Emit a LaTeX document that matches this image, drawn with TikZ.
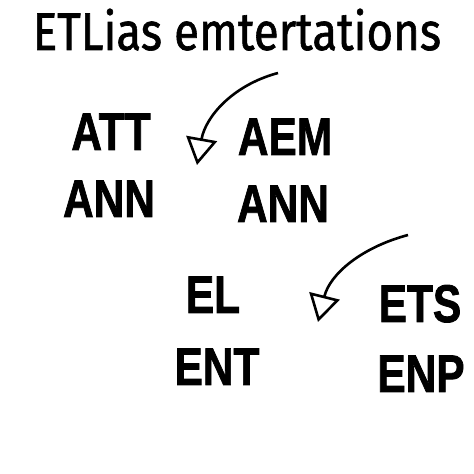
\documentclass[tikz,border=0pt]{standalone}
\usepackage{fontspec}
\setmainfont{Liberation Sans}[BoldFeatures={FakeBold=1.6}]
\newfontfamily\headfont{Fira Sans}[UprightFeatures={FakeBold=1.2}]
\usetikzlibrary{arrows.meta}

\begin{document}
\begin{tikzpicture}[x=1pt,y=1pt,
  word/.style={inner sep=0pt,anchor=base,xscale=0.8,transform shape,
    font=\fontsize{53}{60}\selectfont\bfseries,text=inkcolor},
  swoop/.style={line width=2.6pt,draw=inkcolor,
    -{Triangle[open,length=27pt,width=31pt,line width=2.6pt]}}]
\definecolor{inkcolor}{RGB}{0,0,0}
\definecolor{background}{RGB}{255,255,255}
\fill [background] (0,0) rectangle (474,474);
\useasboundingbox (0,0) rectangle (474,474);
% heading
\node [inner sep=0pt,anchor=base,xscale=0.86,transform shape,text=inkcolor,font=\headfont\fontsize{53}{60}\selectfont] (head) at (237,424) {ETLias emtertations};
% upper pair
\node [word] (att) at (111,324) {ATT};
\node [word] (annl) at (109,257) {ANN};
\node [word] (aem) at (285,319) {AEM};
\node [word] (annr) at (283,252) {ANN};
\coordinate (upstart) at (278,401);
\coordinate (uptip) at (197,309);
\draw [swoop] (upstart) to [out=195,in=80] (uptip);
% lower pair
\node [word] (el) at (213,161) {EL};
\node [word] (ent) at (217,89) {ENT};
\node [word] (ets) at (420,152) {ETS};
\node [word] (enp) at (421,82) {ENP};
\coordinate (lowstart) at (408,239);
\coordinate (lowtip) at (318,152);
\draw [swoop] (lowstart) to [out=195,in=76] (lowtip);
\end{tikzpicture}
\end{document}
